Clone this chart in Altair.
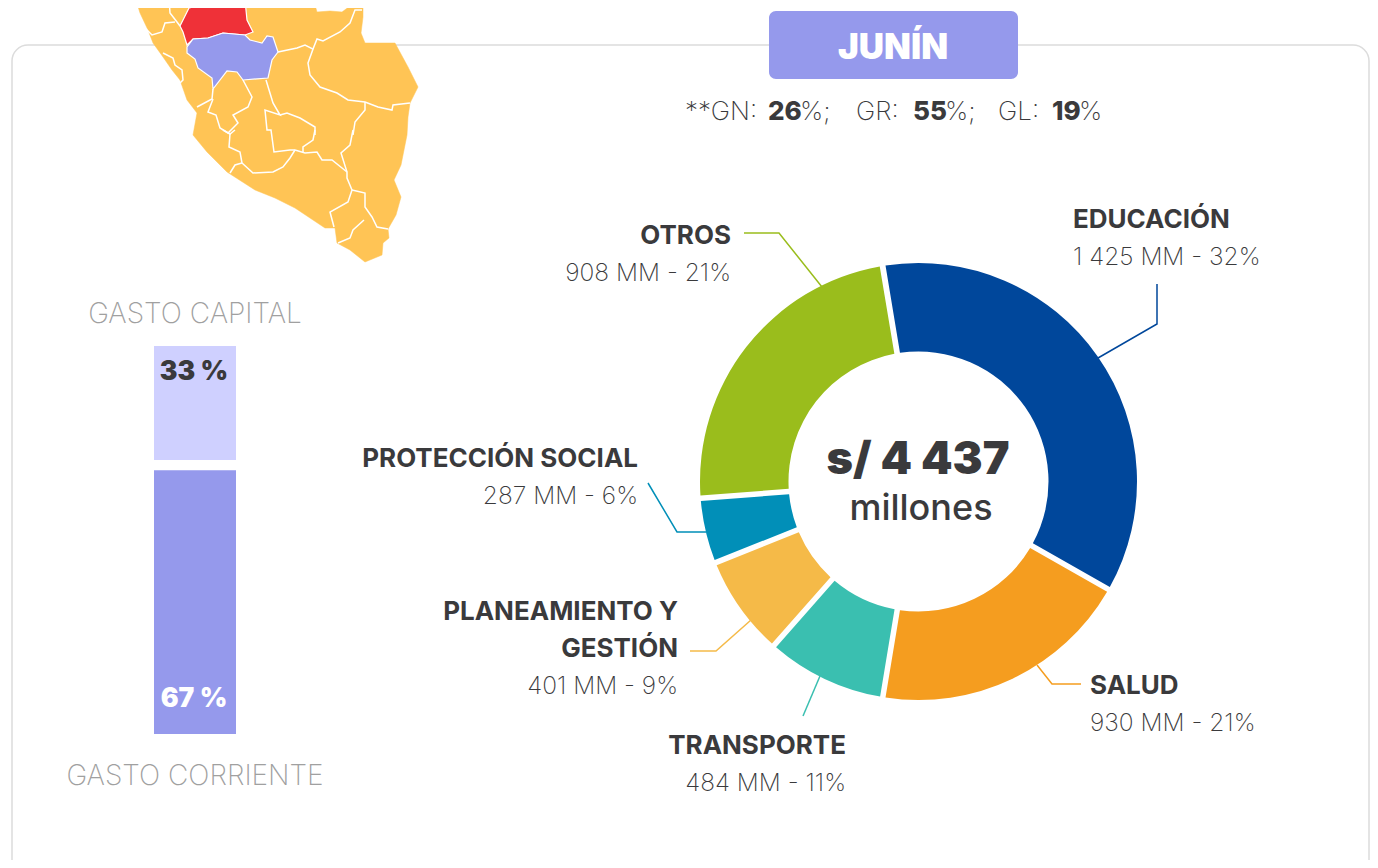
import altair as alt
import math

FONT = "Inter"
DARK = "#3a3a3c"

# ---- donut ----
sectors = ["EDUCACIÓN", "SALUD", "TRANSPORTE", "PLANEAMIENTO Y GESTIÓN", "PROTECCIÓN SOCIAL", "OTROS"]
drawn_degrees = [129.0, 69.8, 32.0, 26.8, 17.4, 84.9]
sector_colors = ["#00479b", "#f59d1f", "#3abfb0", "#f5ba48", "#018fb8", "#9abd1c"]
amounts = ["1 425 MM - 32%", "930 MM - 21%", "484 MM - 11%", "401 MM - 9%", "287 MM - 6%", "908 MM - 21%"]

# ---- column ----
column_names = ["GASTO CORRIENTE", "GASTO CAPITAL"]
column_from = [0.0, 70.6]
column_to = [68.0, 100.0]
column_colors = ["#9599ec", "#cfd0ff"]

# ---- map (outlines) ----
peru = [(135,-3),(140,13),(148,30),(153,43),(163,57),(172,70),(180,80),(187,100),(197,113),(193,135),(207,152),
        (227,172),(255,190),(275,198),(295,208),(310,218),(325,228),(335,228),(337,243),(350,250),(365,262),(382,255),
        (383,243),(389,238),(388,229),(396,215),(401,197),(394,180),(401,165),(407,135),(408,117),(410,103),(418,87),
        (408,67),(395,43),(380,43),(365,43),(361,33),(363,17),(363,-3),(358,2),(350,6),(342,12),(330,11),(317,12),(315,5),(312,-3)]
junin_north = [(189,8),(210,3),(245,0),(247,20),(253,32),(245,35),(223,33),(208,38),(193,39),(187,45),(183,32),(180,26)]
junin = [(187,47),(193,39),(208,38),(223,33),(245,35),(250,40),(262,43),(267,36),(273,37),(278,52),(272,60),(268,78),
         (243,80),(237,72),(227,71),(213,89),(212,78),(198,68),(195,59),(187,53)]
borders = [
    [(169,-3),(170,13),(177,22),(180,26)],
    [(145,28),(152,35),(162,32),(165,23),(175,22)],
    [(163,53),(173,58),(175,65),(182,70),(183,80),(180,83)],
    [(197,107),(212,99),(213,89)],
    [(213,99),(208,112),(216,115),(220,128),(228,133),(238,123),(233,115),(248,107),(252,97),(243,80)],
    [(266,80),(273,103),(280,115),(265,110),(267,130),(271,130),(274,152),(290,150),(295,150),(305,153),(317,152),(322,160),(332,160),(347,172)],
    [(223,130),(230,134),(235,130)],
    [(230,134),(229,147),(240,152),(242,163),(235,165),(230,173)],
    [(242,163),(253,173),(273,172),(283,167),(290,158),(295,150)],
    [(315,130),(313,140),(303,147),(303,153)],
    [(353,130),(350,145),(341,153),(347,172),(347,178),(352,190),(348,202),(330,212),(334,227)],
    [(352,190),(365,193),(365,207),(372,217),(377,227),(388,229)],
    [(364,220),(353,230),(350,238),(338,243)],
    [(278,52),(297,48),(305,45),(313,49),(308,63),(310,75),(320,87),(337,93),(348,100),(365,102),(378,107),(392,110),(393,105),(410,103)],
    [(313,49),(317,39),(323,41),(340,32),(350,23),(355,10),(362,10)],
    [(365,102),(365,110),(355,122),(353,135)],
    [(280,115),(287,113),(300,118),(315,127),(315,135)],
]

# ---- leader lines ----
leaders = [
    ("#00479b", [(1157,284),(1157,324),(1098,358)]),
    ("#f59d1f", [(1037,665),(1052,684),(1081,684)]),
    ("#3abfb0", [(803,716),(820,676)]),
    ("#f5ba48", [(690,651),(716,651),(751,620)]),
    ("#018fb8", [(648,483),(677,532),(706,532)]),
    ("#9abd1c", [(744,233),(779,233),(822,287)]),
]

W, H = 1362, 852
one = alt.Data(values=[{"a": 1}])
px = lambda v: alt.value(v - 8)
page_x = alt.Scale(domain=[8, 8 + W], range=[0, W], nice=False, zero=False)
page_y = alt.Scale(domain=[8, 8 + H], range=[0, H], nice=False, zero=False)


def text(s, x, y, size, weight=300, color=DARK, align="left", font=FONT):
    return alt.Chart(one).mark_text(
        align=align, baseline="middle", fontSize=size, fontWeight=weight, font=font, color=color
    ).encode(x=px(x), y=px(y + 1.7), text=alt.value(s))


def box(x0, y0, x1, y1, **kw):
    return alt.Chart(one).mark_rect(**kw).encode(x=px(x0), x2=px(x1), y=px(y0), y2=px(y1))


def shape(kind, coords):
    return {"type": "Feature", "properties": {}, "geometry": {"type": kind, "coordinates": coords}}


def poly(p):
    return shape("Polygon", [[list(q) for q in p] + [list(p[0])]])


proj = alt.Projection(type="identity", scale=1, translate=[-8, -8])

map_layers = [
    alt.Chart(alt.Data(values=[poly(peru[::-1])])).mark_geoshape(fill="#ffc455", stroke="#ffc455", strokeWidth=0.5).project(**proj.to_dict()),
    alt.Chart(alt.Data(values=[shape("LineString", [list(q) for q in b]) for b in borders])).mark_geoshape(
        filled=False, stroke="white", strokeWidth=1.5).project(**proj.to_dict()),
    alt.Chart(alt.Data(values=[poly(junin_north[::-1])])).mark_geoshape(fill="#ef3138", stroke="white", strokeWidth=1.2).project(**proj.to_dict()),
    alt.Chart(alt.Data(values=[poly(junin[::-1])])).mark_geoshape(fill="#9599ec", stroke="white", strokeWidth=1.2).project(**proj.to_dict()),
]

# donut
donut_rows = [{"s": s, "deg": d, "i": i} for i, (s, d) in enumerate(zip(sectors, drawn_degrees))]
start = math.radians(-9.4)
donut = alt.Chart(alt.Data(values=donut_rows)).mark_arc(
    radius=218.5, radius2=130, padAngle=0.0215
).encode(
    theta=alt.Theta("deg:Q", stack=True, scale=alt.Scale(domain=[0, 360], range=[start, start + 2 * math.pi])),
    color=alt.Color("s:N", scale=alt.Scale(domain=sectors, range=sector_colors), legend=None),
    order=alt.Order("i:Q"),
    x=px(918.5), y=px(481.5),
)

# column
col_rows = [{"n": n, "a": a, "b": b} for n, a, b in zip(column_names, column_from, column_to)]
col_y = alt.Scale(domain=[0, 100], range=[734 - 8, 346 - 8], nice=False)
column = alt.Chart(alt.Data(values=col_rows)).mark_rect().encode(
    x=px(154), x2=px(236),
    y=alt.Y("a:Q", scale=col_y, axis=None), y2="b:Q",
    color=alt.Color("n:N", scale=alt.Scale(domain=column_names, range=column_colors), legend=None),
)

# leaders
leader_rows = []
for k, (c, pts) in enumerate(leaders):
    for j, (x, y) in enumerate(pts):
        leader_rows.append({"k": k, "j": j, "x": x, "y": y, "c": c})
leader = alt.Chart(alt.Data(values=leader_rows)).mark_line(strokeWidth=1.5).encode(
    x=alt.X("x:Q", scale=page_x, axis=None),
    y=alt.Y("y:Q", scale=page_y, axis=None),
    detail="k:N", order="j:Q",
    color=alt.Color("c:N", scale=None),
)

B, L = 26, 24.5
labels = [
    text("OTROS", 731, 234, B, 700, align="right"), text(amounts[5], 731, 272, L, 200, align="right"),
    text("EDUCACIÓN", 1073, 218, B, 700), text(amounts[0], 1073, 256, L, 200),
    text("PROTECCIÓN SOCIAL", 638, 457, B, 700, align="right"), text(amounts[4], 638, 495, L, 200, align="right"),
    text("PLANEAMIENTO Y", 678, 610, B, 700, align="right"), text("GESTIÓN", 678, 647, B, 700, align="right"),
    text(amounts[3], 678, 685, L, 200, align="right"),
    text("TRANSPORTE", 846, 744, B, 700, align="right"), text(amounts[2], 846, 782, L, 200, align="right"),
    text("SALUD", 1090, 684, B, 700), text(amounts[1], 1090, 722, L, 200),
    text("s/ 4 437", 918, 458, 45, 900, align="center"),
    text("millones", 921, 507, 36, 500, align="center"),
    text("GASTO CAPITAL", 195, 313, 28, 200, "#a0a0a0", "center"),
    text("GASTO CORRIENTE", 195, 775, 28, 200, "#a0a0a0", "center"),
    text("33 %", 194, 370, 26.5, 900, align="center"),
    text("67 %", 194, 697, 26.5, 900, "white", "center"),
    text("JUNÍN", 893, 46, 35, 900, "white", "center"),
    text("**GN: ", 685, 110, 26, 200), text("26", 768, 110, 26, 800), text("%;", 800, 110, 26, 200),
    text("GR: ", 856, 110, 26, 200), text("55", 913, 110, 26, 800), text("%;", 945, 110, 26, 200),
    text("GL: ", 998, 110, 26, 200), text("19", 1052, 110, 26, 800), text("%", 1079, 110, 26, 200),
]

panel = box(12, 45, 1369, 920, fill="white", stroke="#dcdcdc", strokeWidth=1.5, cornerRadius=16)
badge = box(769, 11, 1018, 79, fill="#9599ec", cornerRadius=7)

chart = alt.layer(panel, *map_layers, badge, column, donut, leader, *labels).resolve_scale(
    color="independent", x="independent", y="independent", theta="independent"
).properties(
    width=W, height=H, padding=0, autosize=alt.AutoSizeParams(type="none"), background="white"
).configure_view(stroke=None)

chart.save("out.html", embed_options={"renderer": "svg", "actions": False})
